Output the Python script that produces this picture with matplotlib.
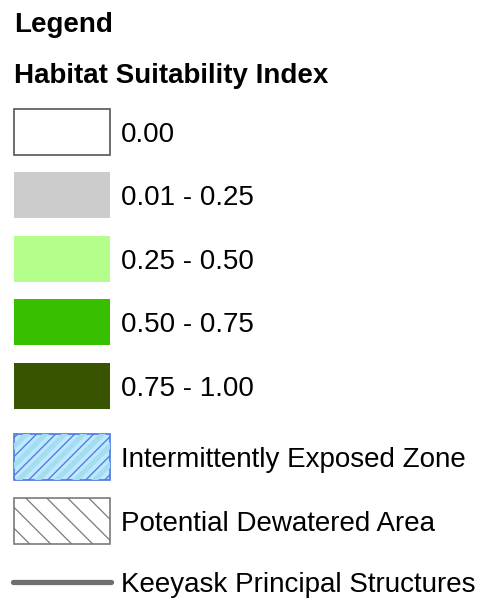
import matplotlib
matplotlib.use('Agg')
import matplotlib.pyplot as plt
from matplotlib.patches import Rectangle

plt.rcParams['font.family'] = ['Liberation Sans', 'DejaVu Sans']

W, H = 491, 603

# legend entries
class_labels = ['0.00', '0.01 - 0.25', '0.25 - 0.50', '0.50 - 0.75', '0.75 - 1.00']
class_colors = ['#ffffff', '#cccccc', '#b4ff8c', '#38c000', '#385400']
class_edges = ['#555555', 'none', 'none', 'none', 'none']

hatch_labels = ['Intermittently Exposed Zone', 'Potential Dewatered Area']
hatch_faces = ['#bee8ff', '#ffffff']
hatch_edges = ['#4a78e0', '#7a7a7a']
hatch_dirs = [1, -1]          # 1 = '/', -1 = '\'
hatch_gaps = [19, 21]
hatch_phase = [22.7, 11.7]

line_label = 'Keeyask Principal Structures'
line_color = '#6e6e6e'

fig = plt.figure(figsize=(W / 100, H / 100), dpi=100)
ax = fig.add_axes([0, 0, 1, 1])
ax.set_xlim(0, W)
ax.set_ylim(H, 0)
ax.axis('off')

FS = 20
ax.text(14, 32, 'Legend', fontsize=FS, fontweight='bold', va='baseline')
ax.text(14, 83, 'Habitat Suitability Index', fontsize=FS, fontweight='bold',
        va='baseline')

box_x, box_w, box_h = 14, 96, 46
txt_x = 121
for i, (lab, col, ec) in enumerate(zip(class_labels, class_colors, class_edges)):
    top = 109 + i * 63.4
    ax.add_patch(Rectangle((box_x, top), box_w, box_h, facecolor=col,
                           edgecolor=ec, lw=1.2))
    ax.text(txt_x, top + 33, lab, fontsize=FS, va='baseline')

for i, (lab, fc, ec) in enumerate(zip(hatch_labels, hatch_faces, hatch_edges)):
    top = 434 + i * 64
    d, gap, ph = hatch_dirs[i], hatch_gaps[i], hatch_phase[i]
    bg = Rectangle((box_x, top), box_w, box_h, facecolor=fc, edgecolor='none')
    ax.add_patch(bg)
    for k in range(-4, 9):
        xk = box_x + ph + k * gap
        xs = [xk + d * 10, xk - d * (box_h + 10)]
        ys = [top - 10, top + box_h + 10]
        if i == 0:
            ln2, = ax.plot([x + 9 for x in xs], ys, color='#a3def0', lw=3.5)
            ln2.set_clip_path(bg)
        ln, = ax.plot(xs, ys, color=ec, lw=0.9)
        ln.set_clip_path(bg)
    ax.add_patch(Rectangle((box_x, top), box_w, box_h, facecolor='none',
                           edgecolor=ec, lw=1.2))
    ax.text(txt_x, top + 33, lab, fontsize=FS, va='baseline')

ax.plot([13, 111], [582, 582], color=line_color, lw=3.8, solid_capstyle='round')
ax.text(txt_x, 592, line_label, fontsize=FS, va='baseline')

fig.savefig('out.png', dpi=100)
